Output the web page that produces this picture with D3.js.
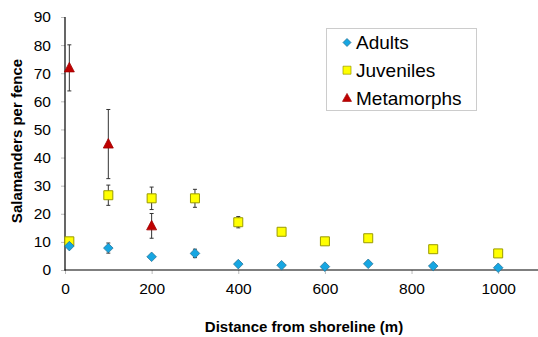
<!DOCTYPE html>
<html>
<head>
<meta charset="utf-8">
<script src="https://cdn.jsdelivr.net/npm/d3@7"></script>
<style>
  body { margin: 0; background: #fff; }
  svg { display: block; font-family: "Liberation Sans", Arial, sans-serif; }
</style>
</head>
<body>
<svg id="chart" width="538" height="337"></svg>
<script>
// distances (m) and mean counts per fence, with error bar half-widths
const distances = [10, 100, 200, 300, 400, 500, 600, 700, 850, 1000];
const adults = [8.5, 7.8, 4.7, 5.9, 2.1, 1.7, 1.2, 2.2, 1.4, 0.8];
const adultsErr = [0, 1.8, 0, 1.5, 0, 0, 0, 0, 0, 0];
const juveniles = [10.2, 26.6, 25.5, 25.5, 17.0, 13.6, 10.2, 11.3, 7.4, 5.9];
const juvenilesErr = [0, 3.6, 4.0, 3.2, 2.0, 0, 0.6, 0, 0, 0];
const metaDistances = [10, 100, 200];
const metamorphs = [71.9, 44.8, 15.7];
const metamorphsErr = [8.2, 12.3, 4.4];
const xTicks = [0, 200, 400, 600, 800, 1000];
const yTicks = [0, 10, 20, 30, 40, 50, 60, 70, 80, 90];

const svg = d3.select('#chart');

const x = d3.scaleLinear().domain([0, 1100]).range([65, 541.5]);
const y = d3.scaleLinear().domain([0, 90]).range([270, 17]);

// axes
let xAxis = svg.append('g')
  .attr('transform', 'translate(0,270)')
  .call(d3.axisBottom(x).tickValues(xTicks).tickSize(4).tickPadding(9).tickFormat(d3.format('d')));
xAxis.select('.domain').remove();
xAxis.selectAll('line').attr('stroke', '#bbb');
xAxis.selectAll('text').attr('font-size', 15.5).attr('fill', '#000')
  .attr('font-family', '"Liberation Sans", Arial, sans-serif');

let yAxis = svg.append('g')
  .attr('transform', 'translate(65,0)')
  .call(d3.axisLeft(y).tickValues(yTicks).tickSize(4).tickPadding(10));
yAxis.select('.domain').remove();
yAxis.selectAll('line').attr('stroke', '#bbb');
yAxis.selectAll('text').attr('font-size', 15.5).attr('fill', '#000')
  .attr('font-family', '"Liberation Sans", Arial, sans-serif');

svg.append('line')
  .attr('x1', 65).attr('x2', 65).attr('y1', 17).attr('y2', 270.5)
  .attr('stroke', '#000').attr('stroke-width', 1.2);
svg.append('line')
  .attr('x1', 64.5).attr('x2', 538).attr('y1', 270).attr('y2', 270)
  .attr('stroke', '#000').attr('stroke-width', 1.2);

// axis titles
svg.append('text')
  .attr('x', 304).attr('y', 331.5)
  .attr('text-anchor', 'middle')
  .attr('font-size', 15).attr('font-weight', 'bold')
  .text('Distance from shoreline (m)');

svg.append('text')
  .attr('transform', 'translate(22,141) rotate(-90)')
  .attr('text-anchor', 'middle')
  .attr('font-size', 15).attr('font-weight', 'bold')
  .text('Salamanders per fence');

// error bars
function errorBars(xs, vals, errs){
  let g = svg.append('g');
  xs.forEach((d, i) => {
    if(!errs[i]) return;
    let cx = x(d), y1 = y(vals[i] + errs[i]), y2 = y(vals[i] - errs[i]);
    g.append('line').attr('x1', cx).attr('x2', cx).attr('y1', y1).attr('y2', y2)
      .attr('stroke', '#333').attr('stroke-width', 1);
    [y1, y2].forEach(yy => {
      g.append('line').attr('x1', cx - 2).attr('x2', cx + 2).attr('y1', yy).attr('y2', yy)
        .attr('stroke', '#333').attr('stroke-width', 1);
    });
  });
}

errorBars(metaDistances, metamorphs, metamorphsErr);
errorBars(distances, juveniles, juvenilesErr);
errorBars(distances, adults, adultsErr);

const diamond = 'M0,-4.8L4.8,0L0,4.8L-4.8,0Z';
const square = 'M-4.5,-4.5H4.5V4.5H-4.5Z';
const triangle = 'M0,-5.5L5,4L-5,4Z';

// metamorphs
svg.append('g').selectAll('path')
  .data(metaDistances)
  .enter().append('path')
    .attr('transform', (d, i) => 'translate(' + x(d) + ',' + y(metamorphs[i]) + ')')
    .attr('d', triangle)
    .attr('fill', '#c00000')
    .attr('stroke', '#a00000')
    .attr('stroke-width', 0.8);

// juveniles
svg.append('g').selectAll('path')
  .data(distances)
  .enter().append('path')
    .attr('transform', (d, i) => 'translate(' + x(d) + ',' + y(juveniles[i]) + ')')
    .attr('d', square)
    .attr('fill', '#ffff00')
    .attr('stroke', '#9a9a00')
    .attr('stroke-width', 1);

// adults
svg.append('g').selectAll('path')
  .data(distances)
  .enter().append('path')
    .attr('transform', (d, i) => 'translate(' + x(d) + ',' + y(adults[i]) + ')')
    .attr('d', diamond)
    .attr('fill', '#16a6e2')
    .attr('stroke', '#1f6b8e')
    .attr('stroke-width', 0.7);

// legend
const legendItems = [
  {name: 'Adults', d: 'M0,-4L4,0L0,4L-4,0Z', fill: '#16a6e2', stroke: '#1f6b8e'},
  {name: 'Juveniles', d: 'M-4,-4H4V4H-4Z', fill: '#ffff00', stroke: '#9a9a00'},
  {name: 'Metamorphs', d: 'M0,-4.5L4.5,3.5L-4.5,3.5Z', fill: '#c00000', stroke: '#a00000'}
];

let legend = svg.append('g');
legend.append('rect')
  .attr('x', 326.5).attr('y', 28.5).attr('width', 150).attr('height', 82)
  .attr('fill', '#fff').attr('stroke', '#ccc');

let items = legend.selectAll('.item')
  .data(legendItems)
  .enter().append('g')
    .attr('class', 'item')
    .attr('transform', (d, i) => 'translate(347,' + (42.5 + i * 27.7) + ')');
items.append('path')
  .attr('d', d => d.d)
  .attr('fill', d => d.fill)
  .attr('stroke', d => d.stroke)
  .attr('stroke-width', 0.7);
items.append('text')
  .attr('x', 9).attr('dy', '0.35em')
  .attr('font-size', 19)
  .text(d => d.name);
</script>
</body>
</html>
